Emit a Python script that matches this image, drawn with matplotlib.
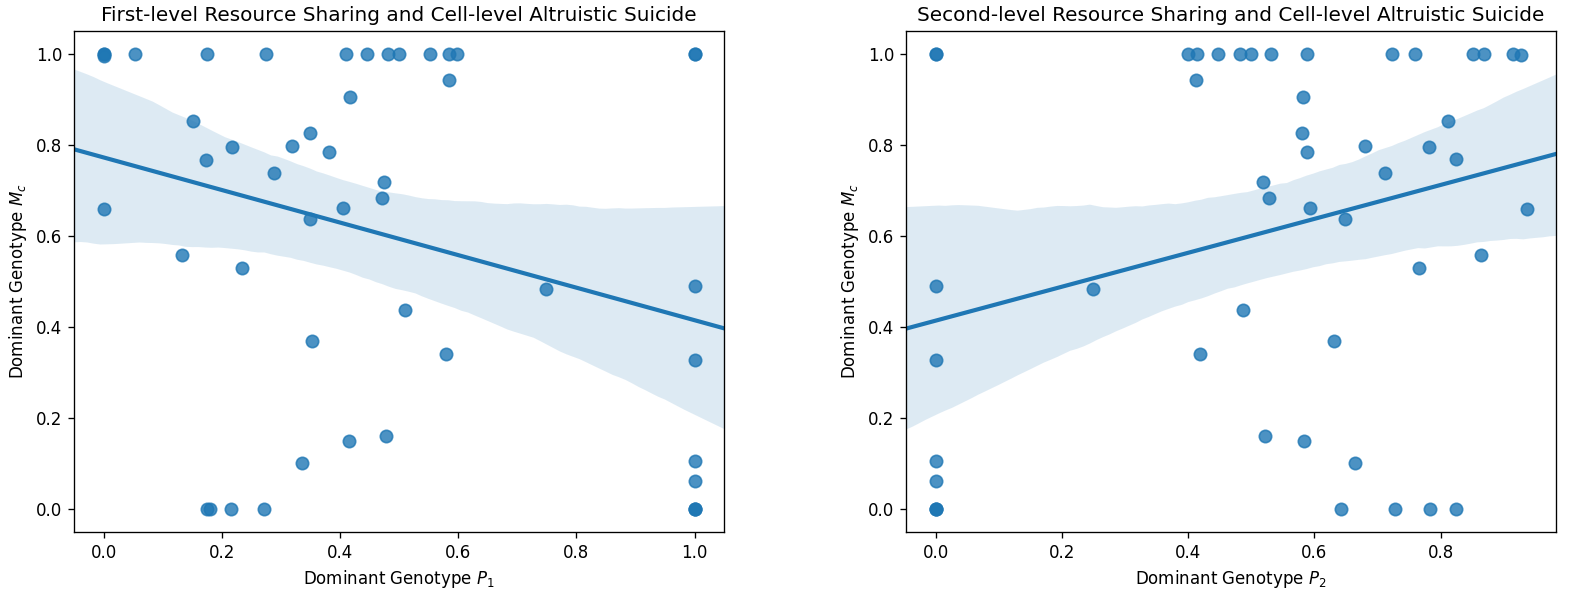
import numpy as np
import seaborn as sns
import matplotlib
matplotlib.use("Agg")
import matplotlib.pyplot as plt

# first-level panel: dominant genotype P1 vs Mc
p1 = [0.0, 0.0, 0.0, 0.053, 0.175, 0.275, 0.411, 0.446, 0.482, 0.5, 0.552, 0.585, 0.598, 1.0, 1.0,
      0.585, 0.417, 0.152, 0.349, 0.218, 0.319, 0.381, 0.174, 0.289, 0.474, 0.471, 0.0,
      0.406, 0.349, 0.133, 0.234,
      0.510, 0.353, 0.415, 0.478, 0.335,
      0.175, 0.180, 0.215, 0.271,
      0.580, 0.749,
      1.0, 1.0, 1.0, 1.0, 1.0, 1.0, 1.0]
mc1 = [1.0, 1.0, 0.995, 1.0, 1.0, 1.0, 1.0, 1.0, 1.0, 1.0, 1.0, 1.0, 1.0, 1.0, 1.0,
       0.942, 0.905, 0.852, 0.826, 0.796, 0.798, 0.784, 0.766, 0.737, 0.719, 0.682, 0.658,
       0.660, 0.636, 0.557, 0.530,
       0.437, 0.368, 0.150, 0.160, 0.101,
       0.0, 0.0, 0.0, 0.0,
       0.341, 0.483,
       0.489, 0.327, 0.106, 0.061, 0.0, 0.0, 0.0]

# second-level panel: dominant genotype P2 vs Mc
p2 = [0.0, 0.0, 0.400, 0.414, 0.447, 0.482, 0.500, 0.532, 0.588, 0.723, 0.759, 0.851, 0.869, 0.915, 0.927,
      0.413, 0.582, 0.580, 0.588, 0.680, 0.781, 0.811, 0.825, 0.711, 0.518, 0.528, 0.593,
      0.649, 0.936, 0.864, 0.765,
      0.0, 0.250, 0.0, 0.419, 0.487, 0.631, 0.522, 0.584, 0.665,
      0.0, 0.0, 0.0, 0.0, 0.0, 0.642, 0.728, 0.783, 0.824]
mc2 = [1.0, 1.0, 1.0, 1.0, 1.0, 1.0, 1.0, 1.0, 1.0, 1.0, 1.0, 1.0, 1.0, 1.0, 0.996,
       0.942, 0.905, 0.826, 0.784, 0.798, 0.796, 0.852, 0.768, 0.737, 0.719, 0.682, 0.660,
       0.636, 0.658, 0.557, 0.530,
       0.489, 0.483, 0.327, 0.341, 0.437, 0.368, 0.160, 0.150, 0.101,
       0.106, 0.061, 0.0, 0.0, 0.0, 0.0, 0.0, 0.0, 0.0]

titles = ["First-level Resource Sharing and Cell-level Altruistic Suicide",
          "Second-level Resource Sharing and Cell-level Altruistic Suicide"]
xlabels = ["Dominant Genotype $P_1$", "Dominant Genotype $P_2$"]
ylabel = "Dominant Genotype $M_c$"

fig, axes = plt.subplots(1, 2, figsize=(13.125, 4.942), dpi=120)
fig.subplots_adjust(left=0.047, right=0.988, bottom=0.103, top=0.948, wspace=0.28)

for ax, xs, ys, title, xlabel in zip(axes, [p1, p2], [mc1, mc2], titles, xlabels):
    sns.regplot(x=np.array(xs), y=np.array(ys), ax=ax, color="#1f77b4", seed=7,
                truncate=False, scatter_kws={"s": 55}, line_kws={"lw": 2.5})
    ax.set_title(title, fontsize=12)
    ax.set_xlabel(xlabel)
    ax.set_ylabel(ylabel)

fig.savefig("out.png", dpi=120)
